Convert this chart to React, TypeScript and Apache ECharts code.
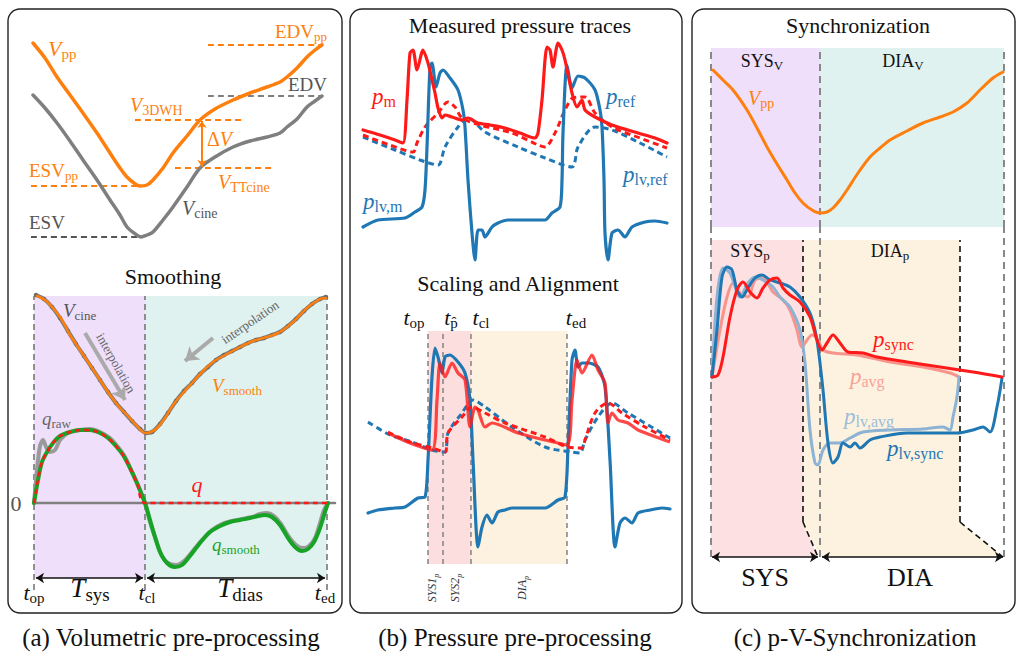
import React, { useEffect, useRef } from "react";
import * as echarts from "echarts";

const ORANGE = "#ff7f0e";
const GRAY = "#7f7f7f";
const BLUE = "#1f77b4";
const RED = "#ff1a1a";
const GREEN = "#17a325";
const LRED = "#f7958c";
const LBLUE = "#8db3d4";
const BLACK = "#111111";
const SERIF = "'Liberation Serif', 'DejaVu Serif', serif";
const TSERIF = "'Liberation Serif', serif";

// ---------- (a) top: volume curves [time, volume] ----------
const vPP = [[3,207],[15,192],[27,173],[40,155],[53,137],[67,117],[80,97],[90,82],[97,73],[104,67],[110,64],[117,65],[123,70],[133,82],[143,97],[157,114],[170,130],[185,141],[203,150],[220,157],[237,163],[250,168],[257,173],[267,182],[277,193],[285,200],[292,205]];
const vCine = [[3,155],[15,142],[27,127],[40,109],[53,90],[67,70],[80,50],[90,35],[97,23],[104,17],[111,13],[117,15],[123,18],[133,30],[143,43],[157,63],[170,82],[185,93],[203,103],[220,109],[237,113],[250,117],[257,123],[267,131],[277,143],[285,149],[292,154]];
const levelEDVpp = [[178,205],[292,205]];
const levelEDV = [[178,154],[292,154]];
const levelV3DWH = [[105,130],[215,130]];
const levelVTT = [[145,82],[242,82]];
const levelESVpp = [[1,64],[110,64]];
const levelESV = [[1,13],[110,13]];
const deltaV = [[172,83],[172,129]];

// ---------- (a) bottom: smoothing [time, value] ----------
const tA = [4, 115, 297]; // t_op, t_cl, t_ed
const vSmooth = [[7,294],[15,290],[23,282],[32,270],[40,255],[50,240],[60,225],[70,210],[80,195],[90,182],[97,175],[106,165],[115,157],[121,158],[127,162],[135,172],[143,185],[153,197],[163,208],[173,219],[183,228],[197,236],[210,243],[223,249],[237,253],[246,256],[253,260],[262,267],[270,275],[278,283],[285,288],[290,291],[296,292]];
const vCineDots = [[6,295],[14,291],[22,283],[30,272],[38,259],[46,246],[54,234],[62,222],[70,210],[78,198],[86,187],[94,178],[102,169],[110,161],[116,157],[122,158],[130,166],[138,177],[146,189],[154,199],[162,207],[170,216],[178,223],[186,230],[194,235],[202,239],[210,243],[218,247],[226,250],[234,252],[242,255],[250,258],[258,264],[266,271],[274,279],[282,286],[290,291],[296,293]];
const qSmooth = [[4,87],[8,110],[12,128],[17,138],[23,147],[30,154],[40,158],[50,160],[60,160],[70,157],[78,152],[85,145],[93,135],[100,122],[107,107],[115,87],[120,70],[125,53],[130,38],[137,27],[145,23],[152,25],[160,34],[170,47],[180,58],[190,64],[200,68],[210,70],[220,72],[228,74],[235,75],[242,73],[250,65],[258,52],[265,43],[272,39],[278,41],[284,48],[290,62],[295,78],[298,87]];
const qRaw = [[4,87],[7,120],[10,144],[13,150],[16,143],[20,138],[25,140],[30,150],[38,157],[50,160],[60,161],[70,158],[80,152],[88,143],[95,133],[102,118],[109,102],[115,87],[120,68],[126,50],[132,34],[138,27],[146,25],[154,29],[162,38],[172,50],[182,60],[192,66],[202,69],[212,71],[222,73],[230,76],[237,77],[244,74],[251,66],[259,53],[266,45],[273,42],[279,44],[285,52],[290,67],[294,80],[298,87]];
const qFlow = [[4,87],[8,110],[12,128],[17,138],[23,147],[30,154],[40,158],[50,160],[60,160],[70,157],[78,152],[85,145],[93,135],[100,122],[107,107],[115,87],[300,87]];
const zeroLine = [[3,87],[305,87]];

// ---------- (b) top: measured pressure traces [time, pressure] ----------
const pM = [[3,140],[20,135],[35,130],[43,127],[47,170],[50,217],[53,220],[57,200],[63,220],[68,207],[72,190],[75,177],[78,162],[82,152],[85,155],[92,153],[102,150],[108,152],[118,147],[130,145],[145,142],[160,137],[175,132],[178,137],[182,170],[187,223],[190,220],[193,203],[198,227],[202,220],[205,210],[212,177],[217,163],[222,170],[225,160],[235,153],[252,145],[278,137],[295,132],[307,127]];
const pRef = [[3,135],[30,125],[53,118],[57,127],[65,143],[78,157],[88,168],[95,163],[102,152],[120,145],[152,137],[178,125],[185,123],[195,137],[205,160],[213,172],[225,173],[235,157],[252,143],[280,132],[307,122]];
const pLvRef = [[3,133],[35,120],[60,110],[78,105],[85,123],[98,143],[108,152],[125,138],[158,123],[185,112],[212,103],[218,123],[235,143],[252,140],[280,127],[307,113]];
const pLvM = [[3,43],[18,50],[45,52],[55,58],[62,63],[65,80],[67,123],[70,203],[72,207],[76,183],[80,197],[83,200],[90,192],[98,180],[103,160],[105,143],[108,90],[112,37],[115,10],[118,40],[122,40],[125,33],[132,43],[138,47],[148,50],[185,50],[192,57],[200,63],[202,90],[203,137],[207,205],[212,182],[218,194],[225,192],[235,180],[240,160],[242,143],[244,90],[245,37],[248,10],[252,37],[258,40],[265,33],[272,43],[285,48],[295,49],[307,47]];

// ---------- (b) bottom: scaled and aligned ----------
const tB = [68, 83, 111, 207]; // t_op, t_p^, t_cl, t_ed
const aLvM = [[8,57],[18,60],[35,62],[45,63],[58,72],[65,73],[68,110],[72,193],[75,222],[78,213],[82,197],[85,213],[90,215],[98,208],[105,197],[110,170],[113,110],[118,23],[122,43],[127,55],[132,47],[138,58],[145,60],[152,62],[185,62],[198,70],[205,73],[208,123],[212,210],[215,220],[218,203],[222,207],[228,207],[238,203],[245,183],[250,110],[255,23],[260,47],[265,52],[272,47],[278,57],[290,60],[302,62],[310,61]];
const aM = [[28,137],[50,127],[72,120],[77,170],[80,207],[85,193],[92,207],[98,197],[105,190],[110,143],[115,163],[118,160],[125,143],[132,147],[158,137],[185,130],[207,125],[212,170],[217,210],[222,197],[232,215],[238,200],[245,187],[248,147],[252,157],[258,150],[268,147],[278,140],[310,128]];
const aRef = [[28,138],[50,128],[72,122],[85,118],[88,137],[102,153],[112,163],[125,157],[145,147],[185,133],[208,123],[222,122],[225,130],[235,157],[248,167],[262,157],[285,143],[310,130]];
const aLvRef = [[8,148],[30,135],[52,128],[72,120],[85,118],[88,137],[102,157],[113,170],[125,163],[152,143],[185,123],[212,118],[220,117],[225,130],[238,153],[252,167],[268,157],[310,132]];

// ---------- (c) top: V_pp over one cycle ----------
const tC = [6, 115, 299]; // SYS_V / DIA_V bounds
const vPPc = [[8,170],[18,160],[28,150],[42,130],[52,112],[62,93],[72,76],[82,60],[90,47],[98,37],[107,30],[115,27],[122,28],[128,32],[135,40],[142,50],[153,67],[165,83],[175,92],[185,100],[202,109],[218,117],[235,123],[248,128],[262,137],[275,150],[288,162],[298,168]];

// ---------- (c) bottom: synchronised pressures ----------
const tP = [6, 98, 255]; // SYS_p / DIA_p bounds
const pSync = [[7,188],[13,190],[18,208],[25,248],[32,275],[38,283],[45,273],[52,267],[58,277],[65,285],[72,287],[78,277],[85,270],[95,263],[105,248],[112,225],[117,215],[122,222],[128,230],[135,222],[143,213],[158,212],[172,208],[202,203],[235,198],[268,193],[297,188]];
const pAvg = [[7,188],[15,235],[22,268],[28,282],[35,272],[43,268],[50,285],[58,287],[68,273],[78,265],[85,255],[92,235],[97,218],[102,225],[107,230],[113,225],[118,215],[128,212],[152,210],[185,203],[218,198],[245,192],[254,188]];
const pLvAvg = [[7,188],[12,268],[18,297],[25,292],[35,268],[43,282],[50,288],[58,285],[68,278],[75,268],[85,258],[95,235],[100,202],[105,135],[110,102],[113,100],[118,115],[125,122],[135,122],[145,127],[158,133],[185,135],[218,136],[238,138],[245,135],[248,148],[252,168],[254,188]];
const pLvSync = [[7,188],[12,235],[17,288],[22,298],[27,295],[32,275],[37,268],[43,277],[50,287],[57,290],[65,285],[75,282],[85,278],[95,268],[105,252],[110,235],[113,218],[118,175],[123,122],[128,102],[133,108],[138,122],[145,118],[150,122],[155,117],[165,125],[175,128],[202,132],[252,132],[268,135],[278,138],[285,133],[292,158],[297,187]];

const GRIDS = [
  { left: 30, top: 30, width: 300, height: 220 },
  { left: 30, top: 290, width: 310, height: 300 },
  { left: 360, top: 40, width: 310, height: 230 },
  { left: 360, top: 330, width: 315, height: 240 },
  { left: 705, top: 40, width: 305, height: 200 },
  { left: 705, top: 225, width: 305, height: 340 },
];
const XMAX = [300, 310, 310, 315, 305, 305];
const YMAX = [220, 300, 230, 240, 200, 340];

const curve = (g: number, data: number[][], color: string, width: number, extra: any = {}) => ({
  type: "line", xAxisIndex: g, yAxisIndex: g, data, showSymbol: false, symbol: "none",
  smooth: 0.3, silent: true, z: 5,
  lineStyle: { color, width, cap: "round", join: "round" }, ...extra,
});
const dashed = (g: number, data: number[][], color: string, width: number, extra: any = {}) =>
  curve(g, data, color, width, { ...extra, lineStyle: { color, width, type: [6, 4], cap: "butt" } });

const segs = (g: number, list: number[][][], color: string, width: number, dash: any, symbol: string[] = ["none", "none"], z = 3, symbolSize = 9) => ({
  type: "lines", coordinateSystem: "cartesian2d", xAxisIndex: g, yAxisIndex: g, silent: true, z,
  data: list.map((c) => ({ coords: c })), symbol, symbolSize,
  lineStyle: { color, width, type: dash, opacity: 1, curveness: 0 },
});

const shapes = (g: number, items: { v: number[]; c: string }[]) => ({
  type: "custom", xAxisIndex: g, yAxisIndex: g, silent: true, z: 1,
  encode: { x: [0, 1, 2, 3], y: [4, 5] },
  data: items.map((it) => ({ value: it.v, itemStyle: { color: it.c } })),
  renderItem: (_p: any, api: any) => {
    const pts = [
      api.coord([api.value(0), api.value(4)]),
      api.coord([api.value(1), api.value(4)]),
      api.coord([api.value(3), api.value(5)]),
      api.coord([api.value(2), api.value(5)]),
    ];
    return { type: "polygon", shape: { points: pts }, style: { fill: api.visual("color") } };
  },
});

const rich = (c: string, fs: number) => ({
  i: { fontFamily: SERIF, fontStyle: "italic", fontSize: fs, fill: c, lineHeight: fs + 4, verticalAlign: "middle" },
  r: { fontFamily: SERIF, fontSize: fs, fill: c, lineHeight: fs + 4, verticalAlign: "middle" },
  s: { fontFamily: SERIF, fontSize: Math.round(fs * 0.7), fill: c, lineHeight: Math.round(fs * 0.6), verticalAlign: "bottom" },
  si: { fontFamily: SERIF, fontStyle: "italic", fontSize: Math.round(fs * 0.7), fill: c, lineHeight: Math.round(fs * 0.6), verticalAlign: "bottom" },
});
const T = (x: number, y: number, text: string, c: string, fs = 20, align = "left", rotation = 0) => ({
  type: "text", x, y, rotation, z: 50, silent: true,
  style: { text, rich: rich(c, fs), align, verticalAlign: "middle", fill: c, fontFamily: SERIF, fontSize: fs },
});
const Title = (x: number, y: number, text: string, fs = 21, font = TSERIF) => ({
  type: "text", x, y, z: 50, silent: true,
  style: { text, fontFamily: font, fontSize: fs, fill: BLACK, align: "center", verticalAlign: "middle" },
});
const Box = (x: number, y: number, w: number, h: number) => ({
  type: "rect", z: 40, silent: true, shape: { x, y, width: w, height: h, r: 12 },
  style: { fill: "none", stroke: "#222", lineWidth: 1.4 },
});

const vert = (xs: number[], y0: number, y1: number) => xs.map((x) => [[x, y0], [x, y1]]);

function buildOption() {
  const series: any[] = [
    // (a) top
    dashed(0, levelEDVpp, ORANGE, 2),
    dashed(0, levelEDV, GRAY, 2),
    dashed(0, levelV3DWH, ORANGE, 2),
    dashed(0, levelVTT, ORANGE, 2),
    dashed(0, levelESVpp, ORANGE, 2),
    dashed(0, levelESV, "#555", 2),
    curve(0, vCine, GRAY, 3.5),
    curve(0, vPP, ORANGE, 3.5),
    segs(0, [deltaV], ORANGE, 2, "solid", ["arrow", "arrow"], 6, 7),

    // (a) bottom
    shapes(1, [
      { v: [tA[0], tA[1], tA[0], tA[1], 294, 12], c: "#efdffb" },
      { v: [tA[1], tA[2], tA[1], tA[2], 294, 12], c: "#dff2ef" },
    ]),
    segs(1, vert(tA, 0, 294), "#777", 1.6, [6, 4], ["none", "none"], 2),
    curve(1, zeroLine, "#808080", 2.5, { smooth: false, z: 3 }),
    curve(1, vCineDots, "#7a7a7a", 4, { z: 4 }),
    { type: "scatter", xAxisIndex: 1, yAxisIndex: 1, data: vCineDots, symbolSize: 4.5, itemStyle: { color: "#666" }, silent: true, z: 5 },
    curve(1, vSmooth, ORANGE, 2.5, { z: 6 }),
    curve(1, qRaw, "#9a9a9a", 4, { z: 4 }),
    curve(1, qSmooth, GREEN, 4, { z: 5 }),
    { ...dashed(1, qFlow, RED, 2.5), z: 6, lineStyle: { color: RED, width: 2.5, type: [5, 4] } },
    segs(1, [[[6, 12], [113, 12]], [[117, 12], [295, 12]]], BLACK, 1.6, "solid", ["arrow", "arrow"], 6, 8),
    segs(1, [[[55, 257], [95, 190]], [[183, 252], [155, 229]]], "#aaaaaa", 4, "solid", ["none", "arrow"], 6, 13),

    // (b) top
    dashed(2, pLvRef, BLUE, 3),
    dashed(2, pRef, RED, 3),
    curve(2, pLvM, BLUE, 3.2, { smooth: 0.25 }),
    curve(2, pM, RED, 3.2, { smooth: 0.25 }),

    // (b) bottom
    shapes(3, [
      { v: [tB[0], tB[2], tB[0], tB[2], 239, 6], c: "#fcdede" },
      { v: [tB[2], tB[3], tB[2], tB[3], 239, 6], c: "#fdf2df" },
    ]),
    segs(3, vert(tB, 6, 239), "#888", 1.6, [5, 4], ["none", "none"], 2),
    dashed(3, aLvRef, BLUE, 3),
    curve(3, aLvM, BLUE, 3.2, { smooth: 0.25 }),
    curve(3, aM, RED, 3.2, { smooth: 0.25, lineStyle: { color: RED, width: 3.2, opacity: 0.8 } }),
    dashed(3, aRef, RED, 3),

    // (c) top
    shapes(4, [
      { v: [tC[0], tC[1], tC[0], tC[1], 192, 13], c: "#efdffb" },
      { v: [tC[1], tC[2], tC[1], tC[2], 192, 13], c: "#dff2ef" },
    ]),
    segs(4, vert(tC, 13, 192), "#888", 2, [7, 5], ["none", "none"], 2),
    curve(4, vPPc, ORANGE, 3),

    // (c) bottom
    shapes(5, [
      { v: [tP[0], tP[1], tP[0], tP[1], 325, 43], c: "#fde0e2" },
      { v: [tP[0], tP[1], tP[0], 113, 43, 8], c: "#fde0e2" },
      { v: [tP[1], tP[2], tP[1], tP[2], 325, 43], c: "#fdf2df" },
      { v: [tP[1], tP[2], 115, 298, 43, 8], c: "#fdf2df" },
    ]),
    segs(5, vert(tC, 8, 338), "#888", 2, [7, 5], ["none", "none"], 2),
    segs(5, [[[tP[1], 43], [tP[1], 325]], [[tP[2], 43], [tP[2], 325]], [[tP[1], 43], [113, 8]], [[tP[2], 43], [298, 8]]], BLACK, 1.6, [6, 4], ["none", "none"], 3),
    segs(5, [[[7, 8], [113, 8]], [[117, 8], [298, 8]]], BLACK, 1.6, "solid", ["arrow", "arrow"], 6, 8),
    curve(5, pAvg, LRED, 3, { z: 4 }),
    curve(5, pLvAvg, LBLUE, 3, { z: 4 }),
    curve(5, pLvSync, BLUE, 3, { z: 5 }),
    curve(5, pSync, RED, 3, { z: 6 }),
  ];

  const graphic: any[] = [
    Box(8, 9, 334, 604), Box(350, 9, 332, 604), Box(692, 9, 323, 604),
    // (a) top labels
    T(48, 48, "{i|V}{s|pp}", ORANGE, 22),
    T(327, 31, "{r|EDV}{s|pp}", ORANGE, 19, "right"),
    T(327, 84, "{r|EDV}", "#555", 19, "right"),
    T(130, 105, "{i|V}{s|3DWH}", ORANGE, 20),
    T(207, 139, "{r|Δ}{i|V}", ORANGE, 20),
    T(218, 182, "{i|V}{s|TTcine}", ORANGE, 20),
    T(29, 170, "{r|ESV}{s|pp}", ORANGE, 19),
    T(182, 208, "{i|V}{s|cine}", "#555", 20),
    T(29, 222, "{r|ESV}", "#555", 19),
    // (a) bottom labels
    Title(173, 276, "Smoothing", 22),
    T(63, 310, "{i|V}{s|cine}", "#555", 19),
    T(212, 385, "{i|V}{s|smooth}", ORANGE, 19),
    T(42, 418, "{i|q}{s|raw}", "#666", 19),
    T(197, 484, "{i|q}", RED, 22, "center"),
    T(212, 544, "{i|q}{s|smooth}", GREEN, 19),
    T(16, 503, "{r|0}", "#555", 22, "center"),
    T(34, 592, "{i|t}{s|op}", BLACK, 22, "center"),
    T(90, 588, "{i|T}{s|sys}", BLACK, 27, "center"),
    T(147, 592, "{i|t}{s|cl}", BLACK, 22, "center"),
    T(240, 588, "{i|T}{s|dias}", BLACK, 27, "center"),
    T(325, 592, "{i|t}{s|ed}", BLACK, 22, "center"),
    { type: "text", x: 116, y: 363, rotation: -1.06, z: 50, silent: true, style: { text: "interpolation", fontFamily: SERIF, fontSize: 13, fill: "#666", align: "center", verticalAlign: "middle" } },
    { type: "text", x: 250, y: 322, rotation: 0.6, z: 50, silent: true, style: { text: "interpolation", fontFamily: SERIF, fontSize: 13, fill: "#666", align: "center", verticalAlign: "middle" } },
    // (b)
    Title(520, 25, "Measured pressure traces", 22),
    T(372, 96, "{i|p}{s|m}", RED, 23),
    T(606, 96, "{i|p}{s|ref}", BLUE, 23),
    T(623, 174, "{i|p}{s|lv,ref}", BLUE, 23),
    T(363, 201, "{i|p}{s|lv,m}", BLUE, 23),
    Title(518, 283, "Scaling and Alignment", 22),
    T(414, 317, "{i|t}{s|op}", BLACK, 22, "center"),
    T(451, 317, "{i|t}{s|p\u0302}", BLACK, 22, "center"),
    T(481, 317, "{i|t}{s|cl}", BLACK, 22, "center"),
    T(576, 317, "{i|t}{s|ed}", BLACK, 22, "center"),
    T(432, 588, "{i|SYS1}{si|p}", "#333", 12, "center", Math.PI / 2),
    T(455, 588, "{i|SYS2}{si|p}", "#333", 12, "center", Math.PI / 2),
    T(522, 588, "{i|DIA}{si|p}", "#333", 12, "center", Math.PI / 2),
    // (c)
    Title(858, 25, "Synchronization", 22),
    T(762, 61, "{r|SYS}{s|V}", BLACK, 18, "center"),
    T(903, 61, "{r|DIA}{s|V}", BLACK, 18, "center"),
    T(748, 98, "{i|V}{s|pp}", ORANGE, 20),
    T(750, 251, "{r|SYS}{s|p}", BLACK, 18, "center"),
    T(890, 251, "{r|DIA}{s|p}", BLACK, 18, "center"),
    T(873, 339, "{i|p}{s|sync}", RED, 23),
    T(850, 376, "{i|p}{s|avg}", "#f9a197", 23),
    T(844, 416, "{i|p}{s|lv,avg}", "#9dbdd8", 23),
    T(887, 448, "{i|p}{s|lv,sync}", BLUE, 23),
    T(765, 577, "{r|SYS}", BLACK, 26, "center"),
    T(910, 577, "{r|DIA}", BLACK, 26, "center"),
    // captions
    Title(171, 637, "(a) Volumetric pre-processing", 25),
    Title(515, 637, "(b) Pressure pre-processing", 25),
    Title(855, 637, "(c) p-V-Synchronization", 25),
  ];

  return {
    animation: false,
    backgroundColor: "#ffffff",
    grid: GRIDS.map((g) => ({ ...g, containLabel: false })),
    xAxis: GRIDS.map((_, i) => ({ type: "value", gridIndex: i, min: 0, max: XMAX[i], show: false })),
    yAxis: GRIDS.map((_, i) => ({ type: "value", gridIndex: i, min: 0, max: YMAX[i], show: false })),
    series,
    graphic,
  };
}

export default function App() {
  const ref = useRef<HTMLDivElement>(null);
  useEffect(() => {
    if (!ref.current) return;
    const chart = echarts.init(ref.current, null, { renderer: "svg" });
    chart.setOption(buildOption() as any);
    return () => chart.dispose();
  }, []);
  return (
    <div
      ref={ref}
      style={{ position: "absolute", left: 0, top: 0, width: 1017, height: 664, background: "#fff" }}
    />
  );
}
